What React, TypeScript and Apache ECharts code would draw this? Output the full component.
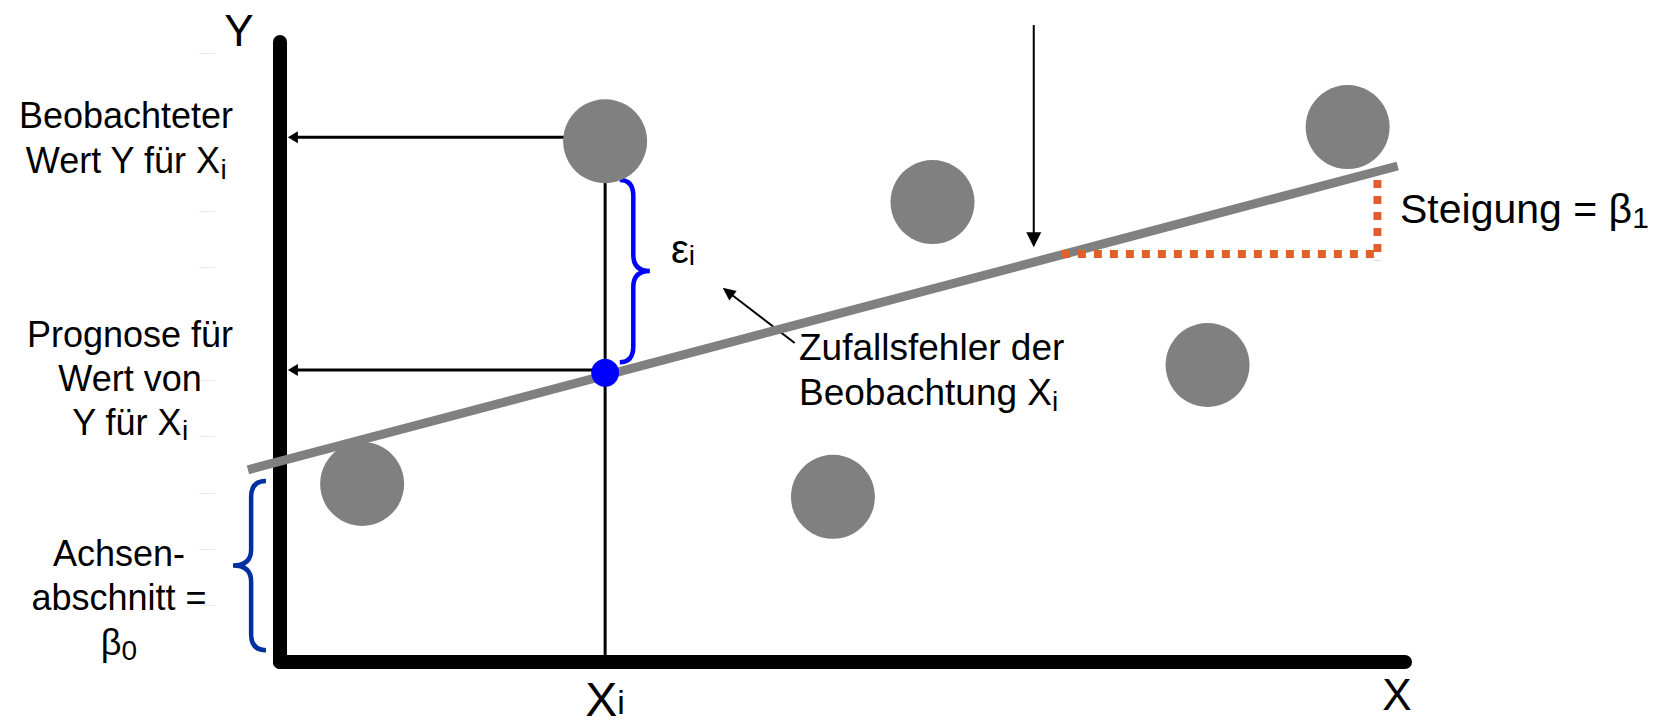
import React, { useEffect, useRef } from "react";
import * as echarts from "echarts";

// ---- data (in axis units; x axis 0..20, y axis 0..11) ----
const OBS_X = [1.46, 5.78, 9.83, 11.6, 16.49, 18.98];
const OBS_Y = [3.16, 9.24, 2.93, 8.16, 5.27, 9.49];
const XI = 5.78;
const OBS_YI = 9.24;
const PRED_YI = 5.13;
const REG_X = [-0.57, 19.87];
const REG_Y = [3.41, 8.8];
const SLOPE_RUN_X = [13.9, 19.51];
const SLOPE_RUN_Y = [7.24, 7.24];
const SLOPE_RISE_X = [19.51, 19.51];
const SLOPE_RISE_Y = [8.55, 7.13];
// arrows: from (X1,Y1) to tip (X2,Y2)
const ARROW_X1 = [XI, XI, 13.4, 9.15];
const ARROW_Y1 = [9.31, 5.18, 11.3, 5.66];
const ARROW_X2 = [0.14, 0.14, 13.4, 7.87];
const ARROW_Y2 = [9.31, 5.18, 7.36, 6.64];
const BRACE_X0 = [6.04, -0.25];
const BRACE_TIP_X = [6.575, -0.835];
const BRACE_Y_TOP = [8.55, 3.21];
const BRACE_Y_BOT = [5.32, 0.21];
const FAINT_TICKS = [1, 2, 3, 4, 5, 7, 8, 10.8];
const X_MAX = 20;
const Y_MAX = 11;

// ---- styles ----
const FONT = "'Liberation Sans', Arial, Helvetica, sans-serif";
const GRAY = "#808080";
const BRACE_COLORS = ["#0000FF", "#0030A0"];
const ORANGE = "#E0602C";
const ARROW_HEAD_LEN = [10, 10, 15, 13];
const ARROW_HEAD_W = [12, 12, 15, 12];
const ARROW_LINE_W = [3, 3, 2, 2];

// F main font, L line height, f subscript font, off subscript baseline drop
function rich(F: number, L: number, f: number, off: number) {
  const h = L - 2 * (off + 0.3465 * (F - f));
  return {
    m: { fontSize: F, lineHeight: L, fontFamily: FONT, fill: "#000", color: "#000" },
    s: { fontSize: f, lineHeight: h, verticalAlign: "bottom", fontFamily: FONT, fill: "#000", color: "#000" },
  };
}

function textEl(x: number, y: number, align: string, text: string, r: any) {
  return {
    type: "text",
    x,
    y,
    silent: true,
    z: 10,
    style: {
      text,
      align,
      textAlign: align,
      verticalAlign: "top",
      textVerticalAlign: "top",
      rich: r,
      fill: "#000",
      fontFamily: FONT,
    },
  };
}

export default function App() {
  const ref = useRef<HTMLDivElement>(null);
  useEffect(() => {
    if (!ref.current) return;
    const chart = echarts.init(ref.current, null, { renderer: "svg" });
    const option: any = {
      animation: false,
      backgroundColor: "#fff",
      textStyle: { fontFamily: FONT },
      grid: { left: 280, right: 265, top: 42, bottom: 62, outerBoundsMode: "none" },
      xAxis: {
        type: "value",
        min: 0,
        max: X_MAX,
        axisLine: { show: true, onZero: false, lineStyle: { color: "#000", width: 14, cap: "round" } },
        axisTick: { show: false },
        splitLine: { show: false },
        axisLabel: {
          show: true,
          customValues: [XI],
          formatter: () => "{m|X}{s|i}",
          margin: 17,
          rich: rich(48, 40, 34, 10),
        },
      },
      yAxis: [
        {
          type: "value",
          min: 0,
          max: Y_MAX,
          axisLine: { show: true, onZero: false, lineStyle: { color: "#000", width: 14, cap: "round" } },
          axisTick: { show: false },
          axisLabel: { show: false },
          splitLine: { show: false },
        },
        {
          type: "value",
          min: 0,
          max: Y_MAX,
          position: "left",
          offset: 65,
          axisLine: { show: false, onZero: false },
          axisTick: { show: true, length: 16, customValues: FAINT_TICKS, lineStyle: { color: "#e8e8e8", width: 1 } },
          axisLabel: { show: false },
          splitLine: { show: false },
        },
      ],
      series: [
        {
          type: "line",
          name: "Xi",
          data: [
            [XI, 0],
            [XI, OBS_YI],
          ],
          symbol: "none",
          silent: true,
          z: 3,
          lineStyle: { color: "#000", width: 3 },
        },
        {
          type: "custom",
          name: "Pfeile",
          coordinateSystem: "cartesian2d",
          clip: false,
          silent: true,
          z: 3,
          data: ARROW_X1.map((x, i) => [x, ARROW_Y1[i], ARROW_X2[i], ARROW_Y2[i]]),
          renderItem: (params: any, api: any) => {
            const i = params.dataIndex;
            const a = api.coord([api.value(0), api.value(1)]);
            const b = api.coord([api.value(2), api.value(3)]);
            const dx = b[0] - a[0];
            const dy = b[1] - a[1];
            const len = Math.hypot(dx, dy) || 1;
            const ux = dx / len;
            const uy = dy / len;
            const hl = ARROW_HEAD_LEN[i];
            const hw = ARROW_HEAD_W[i] / 2;
            const bx = b[0] - ux * hl;
            const by = b[1] - uy * hl;
            return {
              type: "group",
              children: [
                {
                  type: "line",
                  shape: { x1: a[0], y1: a[1], x2: bx + ux * 2, y2: by + uy * 2 },
                  style: { stroke: "#000", lineWidth: ARROW_LINE_W[i] },
                },
                {
                  type: "polygon",
                  shape: {
                    points: [
                      [b[0], b[1]],
                      [bx - uy * hw, by + ux * hw],
                      [bx + uy * hw, by - ux * hw],
                    ],
                  },
                  style: { fill: "#000" },
                },
              ],
            };
          },
        },
        {
          type: "custom",
          name: "Regressionsgerade",
          coordinateSystem: "cartesian2d",
          clip: false,
          silent: true,
          z: 4,
          data: [[REG_X[0], REG_Y[0], REG_X[1], REG_Y[1]]],
          renderItem: (params: any, api: any) => {
            const a = api.coord([api.value(0), api.value(1)]);
            const b = api.coord([api.value(2), api.value(3)]);
            return {
              type: "line",
              shape: { x1: a[0], y1: a[1], x2: b[0], y2: b[1] },
              style: { stroke: GRAY, lineWidth: 9, lineCap: "butt" },
            };
          },
        },
        {
          type: "line",
          name: "Steigung Lauf",
          data: SLOPE_RUN_X.map((x, i) => [x, SLOPE_RUN_Y[i]]),
          symbol: "none",
          silent: true,
          z: 4,
          lineStyle: { color: ORANGE, width: 8, type: [8, 8], cap: "butt" },
        },
        {
          type: "line",
          name: "Steigung Anstieg",
          data: SLOPE_RISE_X.map((x, i) => [x, SLOPE_RISE_Y[i]]),
          symbol: "none",
          silent: true,
          z: 4,
          lineStyle: { color: ORANGE, width: 8, type: [8, 8], cap: "butt" },
        },
        {
          type: "scatter",
          name: "Beobachtungen",
          data: OBS_X.map((x, i) => [x, OBS_Y[i]]),
          symbol: "circle",
          symbolSize: 84,
          silent: true,
          z: 5,
          itemStyle: { color: GRAY, opacity: 1 },
        },
        {
          type: "scatter",
          name: "Prognose",
          data: [[XI, PRED_YI]],
          symbol: "circle",
          symbolSize: 28,
          silent: true,
          z: 6,
          itemStyle: { color: "#0000FF", opacity: 1 },
        },
        {
          type: "custom",
          name: "Klammern",
          coordinateSystem: "cartesian2d",
          clip: false,
          silent: true,
          z: 5,
          data: BRACE_X0.map((x0, i) => ({
            value: [x0, BRACE_TIP_X[i], BRACE_Y_TOP[i], BRACE_Y_BOT[i]],
            itemStyle: { color: BRACE_COLORS[i] },
          })),
          renderItem: (params: any, api: any) => {
            const p0 = api.coord([api.value(0), api.value(2)]);
            const p1 = api.coord([api.value(1), api.value(3)]);
            const x0 = p0[0];
            const xt = p1[0];
            const yTop = p0[1];
            const yBot = p1[1];
            const yMid = (yTop + yBot) / 2;
            const xs = x0 + (xt - x0) * 0.45;
            const r = 16;
            const d =
              `M${x0},${yTop} Q${xs},${yTop} ${xs},${yTop + r} L${xs},${yMid - r} ` +
              `Q${xs},${yMid} ${xt},${yMid} Q${xs},${yMid} ${xs},${yMid + r} ` +
              `L${xs},${yBot - r} Q${xs},${yBot} ${x0},${yBot}`;
            return {
              type: "path",
              shape: { pathData: d },
              style: { stroke: api.visual("color"), lineWidth: 4.5, fill: "none" },
            };
          },
        },
      ],
      graphic: [
        textEl(239, 8, "center", "{m|Y}", rich(44, 44, 30, 9)),
        textEl(1397, 676, "center", "{m|X}", rich(44, 36, 30, 9)),
        textEl(126, 93, "center", "{m|Beobachteter}\n{m|Wert Y für X}{s|i}", rich(36, 45, 28, 9.5)),
        textEl(130, 312, "center", "{m|Prognose für}\n{m|Wert von}\n{m|Y für X}{s|i}", rich(36, 44, 28, 9.5)),
        textEl(119, 531, "center", "{m|Achsen-}\n{m|abschnitt =}\n{m|β}{s|0}", rich(36, 44.5, 28, 9.5)),
        textEl(799, 325, "left", "{m|Zufallsfehler der}\n{m|Beobachtung X}{s|i}", rich(37, 45, 28, 9)),
        textEl(671, 229, "left", "{m|ε}{s|i}", rich(40, 40, 28, 10)),
        textEl(1400, 186, "left", "{m|Steigung = β}{s|1}", rich(41, 46, 30, 13)),
      ],
    };
    chart.setOption(option);
    return () => chart.dispose();
  }, []);
  return (
    <div
      ref={ref}
      style={{ position: "fixed", left: 0, top: 0, width: 1670, height: 724, background: "#fff" }}
    />
  );
}
